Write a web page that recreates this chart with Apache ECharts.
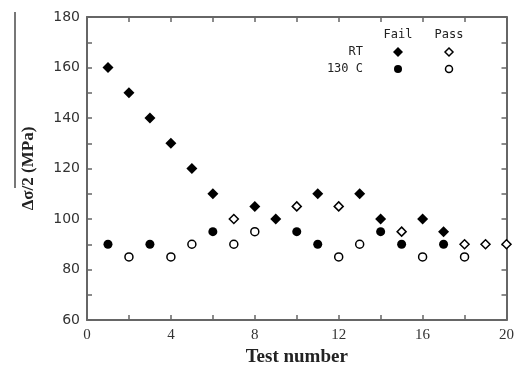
<!DOCTYPE html>
<html>
<head>
<meta charset="utf-8">
<script src="https://cdn.jsdelivr.net/npm/echarts@6/dist/echarts.min.js"></script>
<style>
  html, body { margin: 0; padding: 0; background: #fff; }
  #chart { width: 517px; height: 372px; }
</style>
</head>
<body>
<div id="chart"></div>
<script>
// RT = room temperature, 130 C = elevated; fail = filled, pass = open
const rtFailX = [1, 2, 3, 4, 5, 6, 8, 9, 11, 13, 14, 16, 17];
const rtFailY = [160, 150, 140, 130, 120, 110, 105, 100, 110, 110, 100, 100, 95];
const rtPassX = [7, 10, 12, 15, 18, 19, 20];
const rtPassY = [100, 105, 105, 95, 90, 90, 90];
const hotFailX = [1, 3, 6, 10, 11, 14, 15, 17];
const hotFailY = [90, 90, 95, 95, 90, 95, 90, 90];
const hotPassX = [2, 4, 5, 7, 8, 12, 13, 16, 18];
const hotPassY = [85, 85, 90, 90, 95, 85, 90, 85, 85];

const pairs = (xs, ys) => xs.map((x, i) => [x, ys[i]])

const axisColor = '#666'
const tickStyle = { show: true, inside: true, length: 5, lineStyle: { color: axisColor, width: 1.5 } }
const minorStyle = { show: true, splitNumber: 2, length: 5, lineStyle: { color: axisColor, width: 1.5 } }

const chart = echarts.init(document.getElementById('chart'))
chart.setOption({
  animation: false,
  grid: { left: 87, right: 9, top: 17, bottom: 52 },
  xAxis: [{
    type: 'value', min: 0, max: 20, interval: 4,
    name: 'Test number', nameLocation: 'middle', nameGap: 26,
    nameTextStyle: { fontFamily: 'Liberation Serif', fontWeight: 'bold', fontSize: 19, color: '#222' },
    axisLine: { show: true, lineStyle: { color: axisColor, width: 2 } },
    axisTick: tickStyle,
    minorTick: minorStyle,
    splitLine: { show: false },
    axisLabel: { margin: 8, fontFamily: 'Liberation Serif', fontSize: 15, color: '#333' }
  }, {
    type: 'value', position: 'top', min: 0, max: 20, interval: 4,
    axisLine: { show: true, onZero: false, lineStyle: { color: axisColor, width: 2 } },
    axisTick: tickStyle,
    minorTick: minorStyle,
    splitLine: { show: false },
    axisLabel: { show: false }
  }],
  yAxis: [{
    type: 'value', min: 60, max: 180, interval: 20,
    name: 'Δσ/2 (MPa)', nameLocation: 'middle', nameGap: 50,
    nameTextStyle: { fontFamily: 'Liberation Serif', fontWeight: 'bold', fontSize: 17, color: '#222' },
    axisLine: { show: true, lineStyle: { color: axisColor, width: 2 } },
    axisTick: tickStyle,
    minorTick: minorStyle,
    splitLine: { show: false },
    axisLabel: { margin: 7, fontFamily: 'DejaVu Sans', fontSize: 14, color: '#333' }
  }, {
    type: 'value', position: 'right', min: 60, max: 180, interval: 20,
    axisLine: { show: true, onZero: false, lineStyle: { color: axisColor, width: 2 } },
    axisTick: tickStyle,
    minorTick: minorStyle,
    splitLine: { show: false },
    axisLabel: { show: false }
  }],
  series: [
    {
      name: 'RT Fail', type: 'scatter', symbol: 'diamond', symbolSize: 11,
      itemStyle: { color: '#000', opacity: 1 }, data: pairs(rtFailX, rtFailY)
    },
    {
      name: 'RT Pass', type: 'scatter', symbol: 'diamond', symbolSize: 9,
      itemStyle: { color: '#fff', borderColor: '#000', borderWidth: 1.5, opacity: 1 }, data: pairs(rtPassX, rtPassY)
    },
    {
      name: '130 C Fail', type: 'scatter', symbol: 'circle', symbolSize: 9,
      itemStyle: { color: '#000', opacity: 1 }, data: pairs(hotFailX, hotFailY)
    },
    {
      name: '130 C Pass', type: 'scatter', symbol: 'circle', symbolSize: 8,
      itemStyle: { color: '#fff', borderColor: '#000', borderWidth: 1.5, opacity: 1 }, data: pairs(hotPassX, hotPassY)
    }
  ],
  graphic: [
    // overline drawn beside the y title in the source figure
    { type: 'line', shape: { x1: 15, y1: 12, x2: 15, y2: 188 }, style: { stroke: '#777', lineWidth: 2 } },
    // legend laid out as a small table
    { type: 'text', x: 398, y: 35, style: { text: 'Fail', font: '12px "DejaVu Sans Mono"', fill: '#222', textAlign: 'center', textVerticalAlign: 'middle' } },
    { type: 'text', x: 449, y: 35, style: { text: 'Pass', font: '12px "DejaVu Sans Mono"', fill: '#222', textAlign: 'center', textVerticalAlign: 'middle' } },
    { type: 'text', x: 363, y: 52, style: { text: 'RT', font: '12px "DejaVu Sans Mono"', fill: '#222', textAlign: 'right', textVerticalAlign: 'middle' } },
    { type: 'text', x: 363, y: 69, style: { text: '130 C', font: '12px "DejaVu Sans Mono"', fill: '#222', textAlign: 'right', textVerticalAlign: 'middle' } },
    { type: 'polygon', shape: { points: [[398, 47], [403, 52], [398, 57], [393, 52]] }, style: { fill: '#000' } },
    { type: 'polygon', shape: { points: [[449, 48], [453, 52], [449, 56], [445, 52]] }, style: { fill: '#fff', stroke: '#000', lineWidth: 1.5 } },
    { type: 'circle', shape: { cx: 398, cy: 69, r: 4 }, style: { fill: '#000' } },
    { type: 'circle', shape: { cx: 449, cy: 69, r: 3.5 }, style: { fill: '#fff', stroke: '#000', lineWidth: 1.5 } }
  ]
})
</script>
</body>
</html>
